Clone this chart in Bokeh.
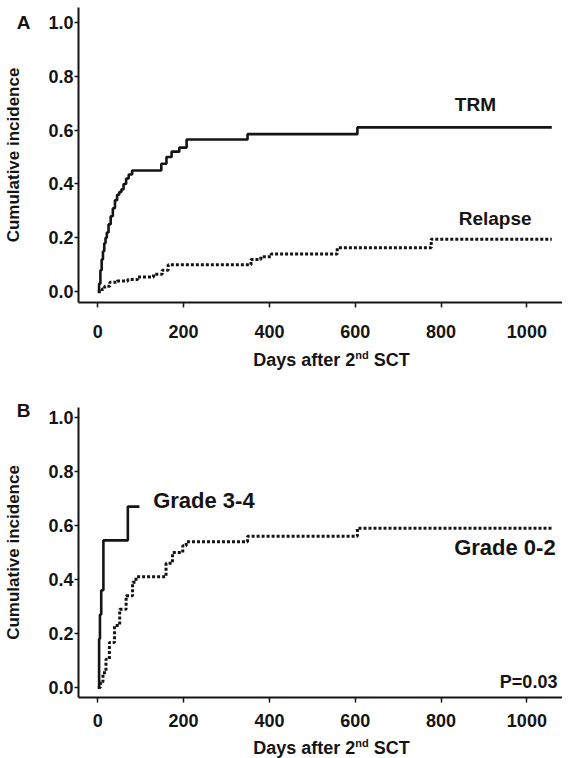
from bokeh.plotting import figure
from bokeh.layouts import column
from bokeh.models import (Label, FixedTicker, NumeralTickFormatter, Range1d, Div,
                          LinearAxis, CustomJSTickFormatter)
from bokeh.embed import file_html
from bokeh.resources import INLINE

FONT = "Liberation Sans"

# ---- Data ----
x_ticks = [0, 200, 400, 600, 800, 1000]
y_ticks = [0.0, 0.2, 0.4, 0.6, 0.8, 1.0]

trm_days = [0, 3, 6, 9, 12, 15, 18, 21, 25, 30, 35, 40, 45, 50, 55, 60, 66, 72, 80,
            148, 160, 172, 190, 207, 349, 605, 1058]
trm_vals = [0, 0.03, 0.08, 0.12, 0.15, 0.18, 0.20, 0.22, 0.25, 0.28, 0.31, 0.34, 0.36,
            0.37, 0.38, 0.40, 0.42, 0.435, 0.45, 0.475, 0.50, 0.52, 0.535, 0.565, 0.585,
            0.61, 0.61]

rel_days = [0, 10, 16, 28, 45, 70, 93, 130, 150, 164, 357, 380, 404, 558, 777, 1058]
rel_vals = [0, 0.01, 0.02, 0.035, 0.04, 0.045, 0.055, 0.065, 0.08, 0.10, 0.12, 0.13,
            0.14, 0.163, 0.195, 0.195]

g34_days = [0, 3, 5, 8, 13, 70, 97]
g34_vals = [0, 0.18, 0.27, 0.36, 0.545, 0.67, 0.67]

g02_days = [0, 6, 12, 19, 27, 39, 51, 66, 81, 89, 159, 174, 198, 206, 349, 605, 1058]
g02_vals = [0, 0.02, 0.055, 0.105, 0.167, 0.23, 0.29, 0.34, 0.39, 0.41, 0.46, 0.50,
            0.525, 0.54, 0.56, 0.59, 0.59]

INK = "#141414"


def make_panel(height, top, bottom, y0, y1, letter, letter_y, xstand):
    p = figure(width=562, height=height, output_backend="svg", toolbar_location=None,
               x_range=Range1d(-45, 1083), y_range=Range1d(y0, y1),
               min_border_left=75, min_border_right=0,
               min_border_top=top, min_border_bottom=bottom)
    p.outline_line_color = None
    p.grid.visible = False
    p.background_fill_color = "white"
    for ax in (p.xaxis[0], p.yaxis[0]):
        ax.axis_line_width = 2
        ax.axis_line_color = INK
        ax.major_tick_line_color = INK
        ax.major_tick_line_width = 1.5
        ax.major_tick_out = 5
        ax.major_tick_in = 0
        ax.minor_tick_line_color = None
        ax.major_label_text_font = FONT
        ax.major_label_text_font_style = "bold"
        ax.major_label_text_font_size = "18px"
        ax.major_label_text_color = INK
    p.yaxis.major_tick_out = 4
    p.xaxis.ticker = FixedTicker(ticks=x_ticks)
    p.yaxis.ticker = FixedTicker(ticks=y_ticks)
    p.yaxis.formatter = NumeralTickFormatter(format="0.0")
    p.xaxis.major_label_standoff = xstand
    p.yaxis.major_label_standoff = 1

    # outer left axis: carries the panel letter and the y axis title
    outer = LinearAxis(ticker=FixedTicker(ticks=[letter_y]),
                       formatter=CustomJSTickFormatter(code="return '%s'" % letter),
                       axis_line_color=None, major_tick_line_color=None,
                       minor_tick_line_color=None, major_tick_out=0, major_tick_in=0,
                       major_label_standoff=15,
                       major_label_text_font=FONT, major_label_text_font_style="bold",
                       major_label_text_font_size="19px", major_label_text_color=INK,
                       axis_label="Cumulative incidence", axis_label_standoff=-9,
                       axis_label_text_font=FONT, axis_label_text_font_style="bold",
                       axis_label_text_font_size="17px", axis_label_text_color=INK)
    p.add_layout(outer, "left")
    return p


def lab(p, x, y, text, size="19px", align="left", baseline="middle"):
    p.add_layout(Label(x=x, y=y, text=text, text_font=FONT, text_font_style="bold",
                       text_font_size=size, text_color=INK, text_align=align,
                       text_baseline=baseline))


def xlabel_div(height):
    html = ('<div style="width:479px;margin-left:87px;text-align:center;'
            'font-family:\'Liberation Sans\';font-weight:bold;font-size:18px;'
            'color:#141414;line-height:%dpx;white-space:nowrap;">Days after 2'
            '<sup style="font-size:11px;line-height:0;">nd</sup> SCT</div>' % height)
    return Div(text=html, width=562, height=height)


# ---- Panel A ----
pa = make_panel(345, 7, 43, -0.04, 1.055, "A", 1.0, 17)
pa.step(trm_days, trm_vals, mode="after", line_color=INK, line_width=2.6)
pa.step(rel_days, rel_vals, mode="after", line_color=INK, line_width=3, line_dash="3 2")
lab(pa, 880, 0.695, "TRM", align="center")
lab(pa, 926, 0.27, "Relapse", align="center")

# ---- Panel B ----
pb = make_panel(359, 32, 37, -0.037, 1.037, "B", 1.026, 11)
pb.step(g34_days, g34_vals, mode="after", line_color=INK, line_width=2.6)
pb.step(g02_days, g02_vals, mode="after", line_color=INK, line_width=3, line_dash="3 2")
lab(pb, 129, 0.693, "Grade 3-4", size="22px")
lab(pb, 1067, 0.52, "Grade 0-2", size="22px", align="right")
lab(pb, 937, 0.02, "P=0.03", size="18px")

layout = column(pa, xlabel_div(20), pb, xlabel_div(18), spacing=0)
open("out.html", "w").write(file_html(layout, INLINE))
